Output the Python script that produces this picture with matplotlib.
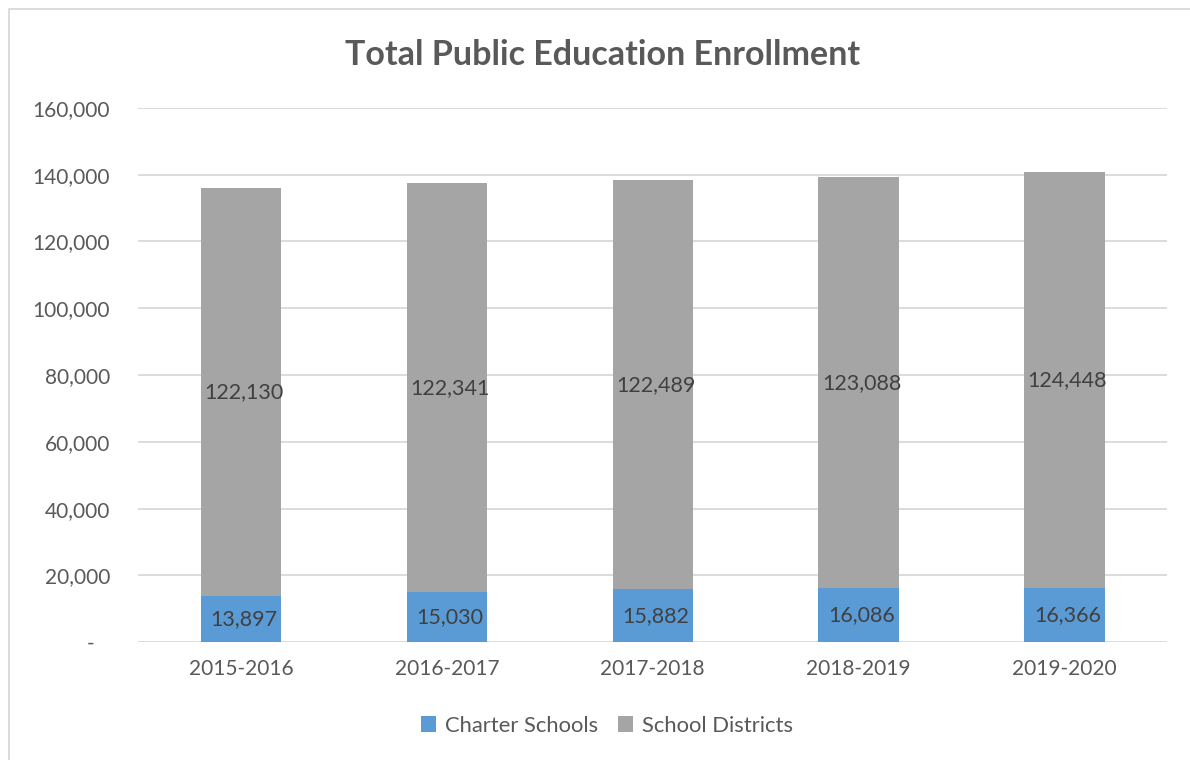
import matplotlib
matplotlib.use("Agg")
import matplotlib.pyplot as plt
from matplotlib.patches import Rectangle
from matplotlib.ticker import FuncFormatter

# data
years = ["2015-2016", "2016-2017", "2017-2018", "2018-2019", "2019-2020"]
charter = [13897, 15030, 15882, 16086, 16366]
districts = [122130, 122341, 122489, 123088, 124448]

plt.rcParams['font.family'] = ['Lato', 'DejaVu Sans']

blue = '#5b9bd5'
grey = '#a5a5a5'
axis_txt = '#595959'
lbl_txt = '#404040'

fig = plt.figure(figsize=(11.9, 7.6), dpi=100)
ax = fig.add_axes([0.116, 0.155, 0.865, 0.703])

x = range(len(years))
w = 0.39
b1 = ax.bar(x, charter, w, color=blue, label='Charter Schools', zorder=3)
b2 = ax.bar(x, districts, w, bottom=charter, color=grey, label='School Districts', zorder=3)

for i in x:
    ax.text(i + 0.015, charter[i] / 2, f"{charter[i]:,}", ha='center', va='center',
            fontsize=15.5, color=lbl_txt, zorder=4)
    ax.text(i + 0.015, charter[i] + districts[i] / 2, f"{districts[i]:,}", ha='center',
            va='center', fontsize=15.5, color=lbl_txt, zorder=4)

ax.set_xlim(-0.5, len(years) - 0.5)
ax.set_ylim(0, 160000)
ax.set_yticks(range(0, 160001, 20000))
# accounting style: zero shown as a dash, a little in from the right
ax.yaxis.set_major_formatter(FuncFormatter(lambda v, p: '-   ' if v == 0 else f"{int(v):,}"))
ax.set_xticks(list(x))
ax.set_xticklabels(years)

ax.grid(axis='y', color='#d9d9d9', linewidth=1.3, zorder=0)
for s in ax.spines.values():
    s.set_visible(False)
ax.tick_params(axis='both', length=0, labelsize=15, colors=axis_txt)
ax.tick_params(axis='y', pad=20)
ax.tick_params(axis='x', pad=12)

fig.text(0.506, 0.928, "Total Public Education Enrollment", ha='center', va='center',
         fontsize=24.5, fontweight='bold', color=axis_txt)

fig.legend(handles=[b1, b2], loc='center', bbox_to_anchor=(0.51, 0.045), ncol=2,
           frameon=False, fontsize=15.8, labelcolor=axis_txt, handlelength=0.7,
           handleheight=0.7, handletextpad=0.4, columnspacing=0.9)

# chart area border (left and top visible)
fig.patches.append(Rectangle((9 / 1190, -0.05), 1.2, 1 - 9 / 760 + 0.05,
                             transform=fig.transFigure, fill=False,
                             edgecolor='#d9d9d9', linewidth=1.3))

fig.savefig("out.png", dpi=100)
